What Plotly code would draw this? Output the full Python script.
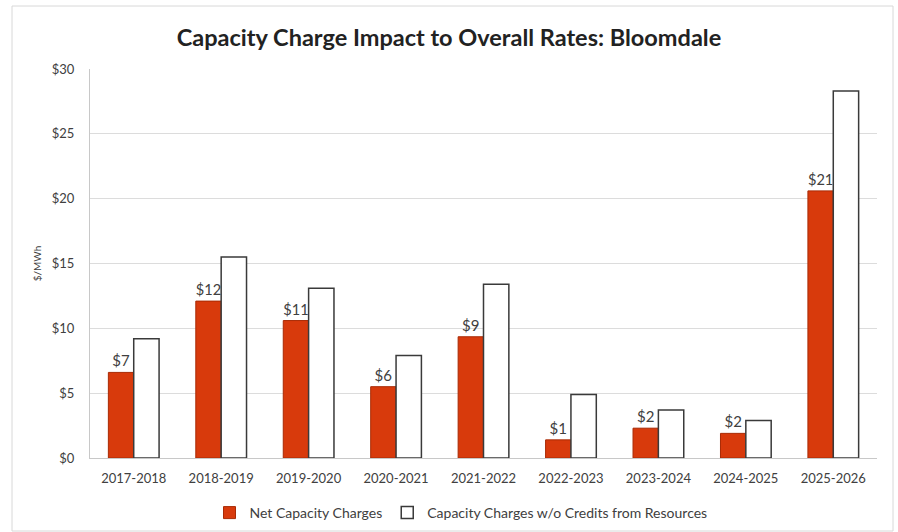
import plotly.graph_objects as go

categories = ["2017-2018", "2018-2019", "2019-2020", "2020-2021", "2021-2022",
              "2022-2023", "2023-2024", "2024-2025", "2025-2026"]
net_charges = [6.6, 12.1, 10.6, 5.5, 9.35, 1.4, 2.3, 1.9, 20.6]
gross_charges = [9.2, 15.5, 13.1, 7.9, 13.4, 4.9, 3.7, 2.9, 28.3]
y_ticks = [0, 5, 10, 15, 20, 25, 30]
y_tick_labels = ["$0", "$5", "$10", "$15", "$20", "$25", "$30"]

RED = "#d83a0c"
TXT = "#404040"
FONT = "Lato, 'Open Sans', sans-serif"

fig = go.Figure()
fig.add_trace(go.Bar(
    x=categories, y=net_charges, name="Net Capacity Charges",
    marker=dict(color=RED, line=dict(color="#a82a05", width=1)),
    texttemplate="$%{y:.0f}", textposition="outside",
    textfont=dict(size=15, color=TXT, family=FONT), cliponaxis=False,
))
fig.add_trace(go.Bar(
    x=categories, y=gross_charges, name="Capacity Charges w/o Credits from Resources",
    marker=dict(color="white", line=dict(color="#3a3a3a", width=1.5)),
))

L, R, T, B = 90, 21, 69, 74
PW, PH = 898 - L - R, 532 - T - B

fig.update_layout(
    width=898, height=532,
    paper_bgcolor="white", plot_bgcolor="white",
    margin=dict(l=L, r=R, t=T, b=B, autoexpand=False),
    barmode="group", bargap=0.42, bargroupgap=0,
    font=dict(family=FONT, color=TXT, size=13),
    title=dict(text="<b>Capacity Charge Impact to Overall Rates: Bloomdale</b>",
               x=0.5, xanchor="center", y=1 - 38 / 532, yanchor="middle",
               font=dict(size=23.5, color="#222222", family=FONT)),
    legend=dict(orientation="h", xref="container", yref="container",
                x=461 / 898, xanchor="center",
                y=1 - 513 / 532, yanchor="middle",
                font=dict(size=14, color=TXT, family=FONT), traceorder="normal",
                itemwidth=30),
    showlegend=True,
    shapes=[dict(type="rect", xref="paper", yref="paper",
                 x0=(12 - L) / PW, x1=(893 - L) / PW,
                 y0=-(531 - 458) / PH, y1=1 + (T - 6) / PH,
                 line=dict(color="#d8d8d8", width=1), layer="below")],
)
fig.update_xaxes(showline=True, linecolor="#c8c8c8", ticks="", showgrid=False,
                 ticklabelstandoff=8, automargin=False,
                 tickfont=dict(size=13, color=TXT, family=FONT))
fig.update_yaxes(range=[0, 30], tickvals=y_ticks, ticktext=y_tick_labels,
                 showgrid=True, gridcolor="#dcdcdc", gridwidth=1,
                 showline=True, linecolor="#c8c8c8", zeroline=False,
                 ticks="", ticklabelstandoff=12, automargin=False,
                 tickfont=dict(size=13, color=TXT, family=FONT),
                 title=dict(text="$/MWh", font=dict(size=10, color=TXT, family=FONT), standoff=8))

fig.write_html("out.html", config={"displayModeBar": False},
               post_script="document.body.style.margin='0';")
